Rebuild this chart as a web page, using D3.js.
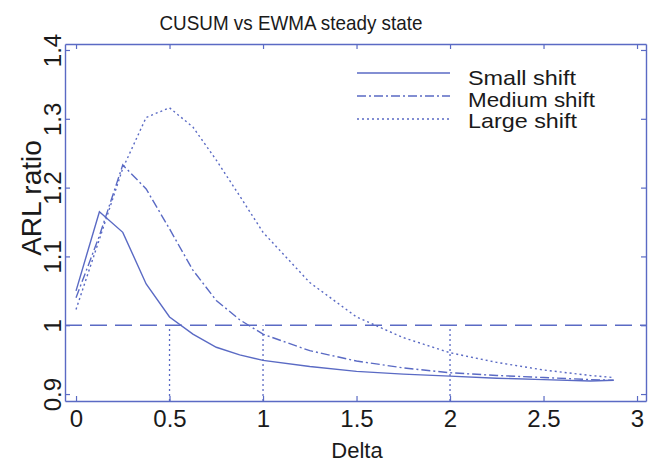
<!DOCTYPE html>
<html>
<head>
<meta charset="utf-8">
<script src="https://cdn.jsdelivr.net/npm/d3@7"></script>
<style>
  html, body { margin: 0; padding: 0; background: #fff; }
  svg { display: block; font-family: "Liberation Sans", Arial, sans-serif; }
</style>
</head>
<body>
<svg id="chart" width="649" height="466"></svg>
<script>
// Shift sizes (Delta) at which the ARL ratio was evaluated
const delta = [0, 0.125, 0.25, 0.375, 0.5, 0.625, 0.75, 0.875, 1.0, 1.25, 1.5, 1.75, 2.0, 2.25, 2.5, 2.75, 2.875];

// ARL ratio CUSUM / EWMA for each design shift
const smallShift  = [1.050, 1.165, 1.135, 1.060, 1.012, 0.987, 0.968, 0.957, 0.949, 0.940, 0.933, 0.929, 0.926, 0.923, 0.921, 0.919, 0.920];
const mediumShift = [1.040, 1.130, 1.233, 1.198, 1.140, 1.080, 1.036, 1.008, 0.987, 0.963, 0.948, 0.938, 0.931, 0.927, 0.924, 0.921, 0.920];
const largeShift  = [1.023, 1.125, 1.228, 1.302, 1.316, 1.288, 1.240, 1.188, 1.135, 1.062, 1.012, 0.982, 0.960, 0.946, 0.935, 0.927, 0.924];

const seriesNames = ["Small shift", "Medium shift", "Large shift"];
const referenceLevel = 1;             // ARL ratio of equal performance
const markedDeltas = [0.5, 1, 2];     // design shifts marked with drop lines

const xTicks = [0, 0.5, 1, 1.5, 2, 2.5, 3];
const yTicks = [0.9, 1, 1.1, 1.2, 1.3, 1.4];

const blue = "#5a6ac4";
const svg = d3.select("#chart");

const plotLeft = 65, plotRight = 646, plotTop = 44, plotBottom = 401;
const x = d3.scaleLinear().domain([-0.059, 3.048]).range([plotLeft, plotRight]);
const y = d3.scaleLinear().domain([0.8899, 1.4087]).range([plotBottom, plotTop]);

// Axes box with inward ticks on all four sides
const fmt = d3.format("~g");
const gx = svg.append("g").attr("transform", `translate(0,${plotBottom})`)
  .call(d3.axisBottom(x).tickValues(xTicks).tickSizeInner(-5).tickSizeOuter(0).tickPadding(9).tickFormat(fmt));
const gxt = svg.append("g").attr("transform", `translate(0,${plotTop})`)
  .call(d3.axisTop(x).tickValues(xTicks).tickSizeInner(-5).tickSizeOuter(0).tickFormat(""));
const gy = svg.append("g").attr("transform", `translate(${plotLeft},0)`)
  .call(d3.axisLeft(y).tickValues(yTicks).tickSizeInner(-5).tickSizeOuter(0).tickFormat(fmt));
const gyr = svg.append("g").attr("transform", `translate(${plotRight},0)`)
  .call(d3.axisRight(y).tickValues(yTicks).tickSizeInner(-5).tickSizeOuter(0).tickFormat(""));

[gx, gxt, gy, gyr].forEach(g => {
  g.selectAll(".domain").attr("stroke", blue).attr("stroke-width", 1.4);
  g.selectAll(".tick line").attr("stroke", blue).attr("stroke-width", 1.2);
  g.selectAll("text").attr("fill", "#1a1a1a").attr("font-size", 24)
    .attr("font-family", "Liberation Sans, Arial, sans-serif");
});

// y tick labels read bottom-to-top
gy.selectAll(".tick text")
  .attr("x", 0).attr("y", -4).attr("dy", null)
  .attr("text-anchor", "middle")
  .attr("transform", "rotate(-90)");

// Reference level ARL ratio = 1
svg.append("line")
  .attr("x1", plotLeft).attr("x2", plotRight)
  .attr("y1", y(referenceLevel)).attr("y2", y(referenceLevel))
  .attr("stroke", blue).attr("stroke-width", 1.5)
  .attr("stroke-dasharray", "17,8");

// Drop lines at the marked design shifts
svg.selectAll("line.drop").data(markedDeltas).enter().append("line")
  .attr("class", "drop")
  .attr("x1", d => x(d)).attr("x2", d => x(d))
  .attr("y1", plotBottom).attr("y2", y(referenceLevel))
  .attr("stroke", blue).attr("stroke-width", 1.3)
  .attr("stroke-dasharray", "2,3");

const dashes = ["", "9,3,2,3", "2,3"];
const seriesValues = [smallShift, mediumShift, largeShift];

const line = d3.line().x(d => x(d[0])).y(d => y(d[1]));
seriesValues.forEach((vals, i) => {
  svg.append("path")
    .datum(delta.map((d, k) => [d, vals[k]]))
    .attr("d", line)
    .attr("fill", "none")
    .attr("stroke", blue)
    .attr("stroke-width", 1.4)
    .attr("stroke-dasharray", dashes[i] || null);
});

// Legend
const legendRows = [73, 96, 119];
const legendText = [85, 107, 128];
seriesNames.forEach((name, i) => {
  svg.append("line")
    .attr("x1", 357).attr("x2", 450)
    .attr("y1", legendRows[i]).attr("y2", legendRows[i])
    .attr("stroke", blue).attr("stroke-width", 1.4)
    .attr("stroke-dasharray", dashes[i] || null);
  svg.append("text")
    .attr("x", 468).attr("y", legendText[i])
    .attr("font-size", 21).attr("fill", "#1a1a1a")
    .attr("textLength", [108, 127, 109][i]).attr("lengthAdjust", "spacingAndGlyphs")
    .text(name);
});

// Title and axis labels
svg.append("text")
  .attr("x", 291).attr("y", 30)
  .attr("text-anchor", "middle")
  .attr("font-size", 21).attr("fill", "#1a1a1a")
  .attr("textLength", 263).attr("lengthAdjust", "spacingAndGlyphs")
  .text("CUSUM vs EWMA steady state");

svg.append("text")
  .attr("x", 357).attr("y", 458)
  .attr("text-anchor", "middle")
  .attr("font-size", 22).attr("fill", "#1a1a1a")
  .text("Delta");

svg.append("text")
  .attr("transform", "translate(41,198) rotate(-90)")
  .attr("text-anchor", "middle")
  .attr("font-size", 28).attr("fill", "#1a1a1a")
  .text("ARL ratio");
</script>
</body>
</html>
